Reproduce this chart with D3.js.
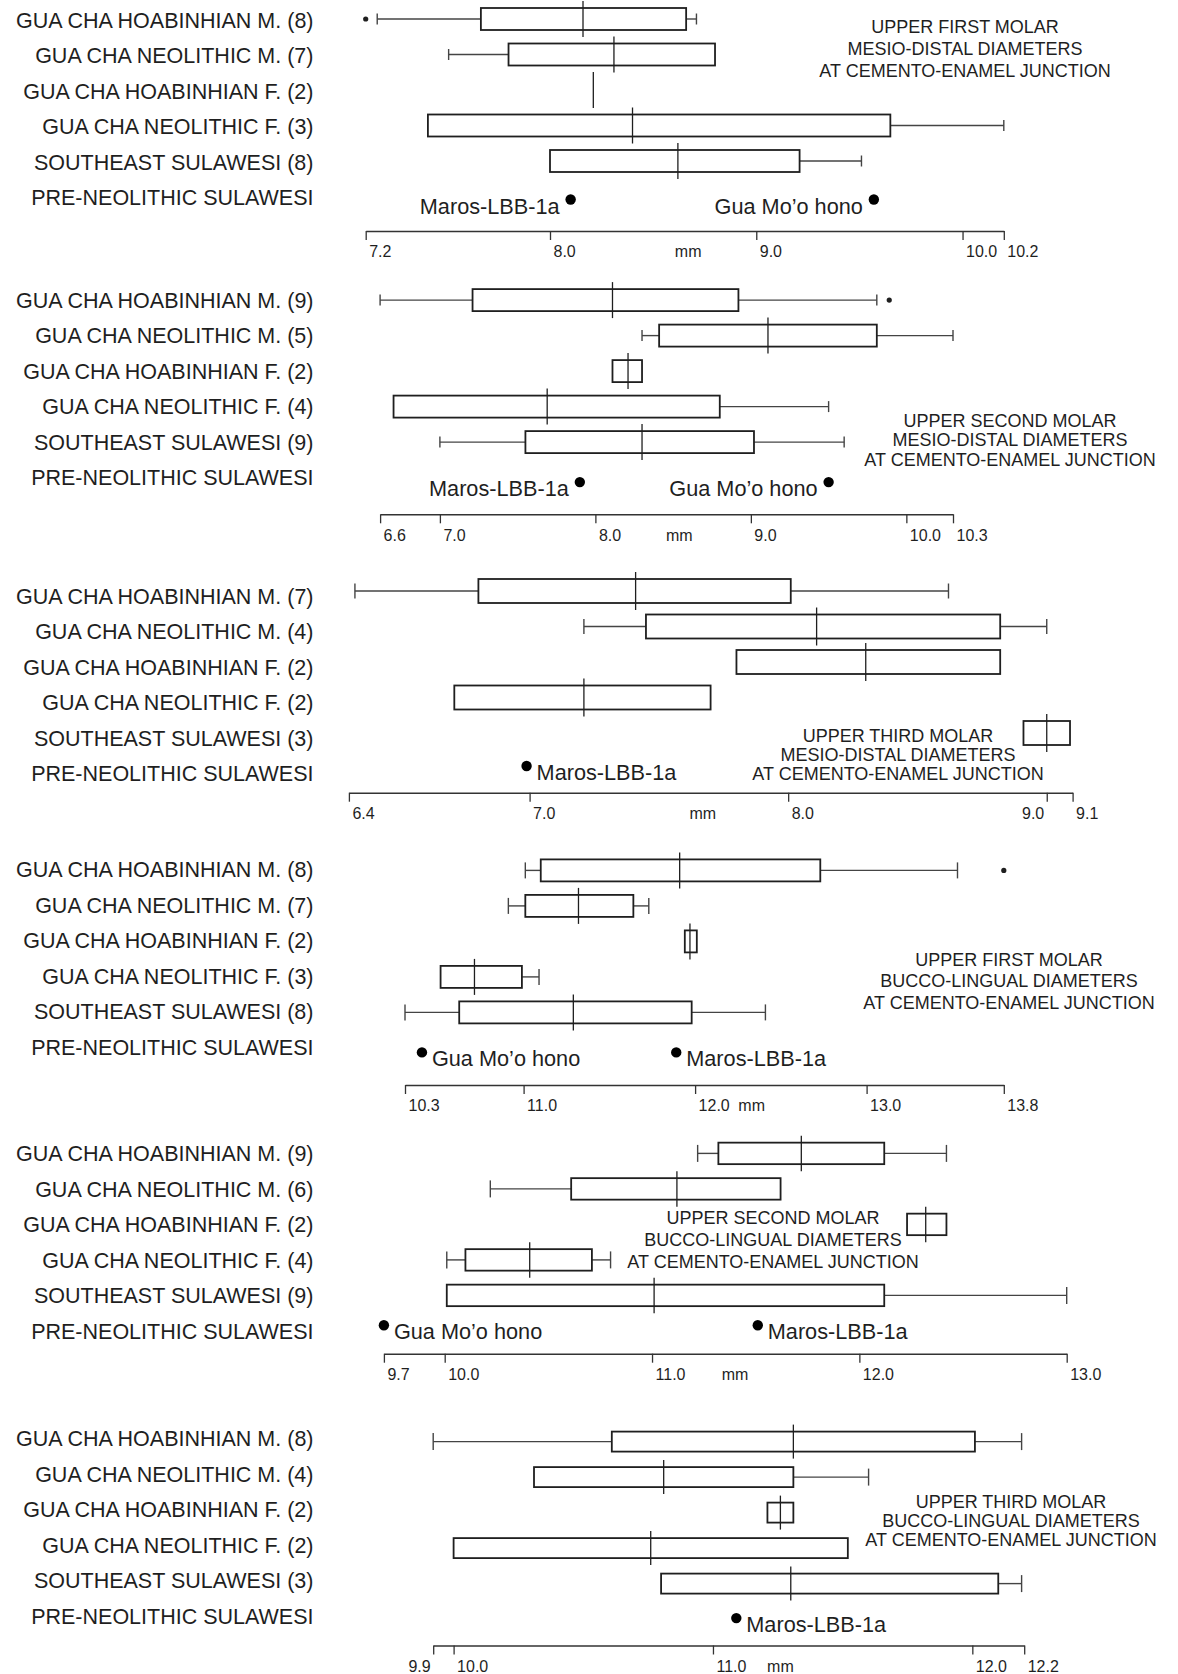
<!DOCTYPE html>
<html>
<head>
<meta charset="utf-8">
<script src="https://cdn.jsdelivr.net/npm/d3@7"></script>
<style>
  html, body { margin: 0; padding: 0; background: #fff; }
  svg { display: block; font-family: "Liberation Sans", Arial, Helvetica, sans-serif; }
</style>
</head>
<body>
<svg id="chart" width="1178" height="1674"></svg>
<script>
// ---- data -----------------------------------------------------------------
const groups = [
  "GUA CHA HOABINHIAN M.",
  "GUA CHA NEOLITHIC M.",
  "GUA CHA HOABINHIAN F.",
  "GUA CHA NEOLITHIC F.",
  "SOUTHEAST SULAWESI",
  "PRE-NEOLITHIC SULAWESI"
];

const titles = [
  ["UPPER FIRST MOLAR", "MESIO-DISTAL DIAMETERS", "AT CEMENTO-ENAMEL JUNCTION"],
  ["UPPER SECOND MOLAR", "MESIO-DISTAL DIAMETERS", "AT CEMENTO-ENAMEL JUNCTION"],
  ["UPPER THIRD MOLAR", "MESIO-DISTAL DIAMETERS", "AT CEMENTO-ENAMEL JUNCTION"],
  ["UPPER FIRST MOLAR", "BUCCO-LINGUAL DIAMETERS", "AT CEMENTO-ENAMEL JUNCTION"],
  ["UPPER SECOND MOLAR", "BUCCO-LINGUAL DIAMETERS", "AT CEMENTO-ENAMEL JUNCTION"],
  ["UPPER THIRD MOLAR", "BUCCO-LINGUAL DIAMETERS", "AT CEMENTO-ENAMEL JUNCTION"]
];

const counts = [
  [8, 7, 2, 3, 8],
  [9, 5, 2, 4, 9],
  [7, 4, 2, 2, 3],
  [8, 7, 2, 3, 8],
  [9, 6, 2, 4, 9],
  [8, 4, 2, 2, 3]
];

// axis tick values (mm)
const ticks = [
  [7.2, 8.0, 9.0, 10.0, 10.2],
  [6.6, 7.0, 8.0, 9.0, 10.0, 10.3],
  [6.4, 7.0, 8.0, 9.0, 9.1],
  [10.3, 11.0, 12.0, 13.0, 13.8],
  [9.7, 10.0, 11.0, 12.0, 13.0],
  [9.9, 10.0, 11.0, 12.0, 12.2]
];

// box stats per group: [low whisker, Q1, median, Q3, high whisker]
const stats = [
  [[7.25, 7.70, 8.16, 8.66, 8.71],
   [7.56, 7.82, 8.31, 8.80, 8.80],
   [8.21, 8.21, 8.21, 8.21, 8.21],
   [7.47, 7.47, 8.40, 9.65, 10.20],
   [8.00, 8.00, 8.62, 9.21, 9.51]],
  [[6.60, 7.21, 8.11, 8.92, 9.81],
   [8.30, 8.41, 9.11, 9.81, 10.30],
   [8.11, 8.11, 8.21, 8.30, 8.30],
   [6.69, 6.69, 7.69, 8.80, 9.50],
   [7.00, 7.55, 8.30, 9.02, 9.60]],
  [[6.42, 6.83, 7.41, 8.01, 8.62],
   [7.21, 7.45, 8.11, 8.82, 9.00],
   [7.80, 7.80, 8.30, 8.82, 8.82],
   [6.75, 6.75, 7.21, 7.70, 7.70],
   [8.91, 8.91, 9.00, 9.09, 9.09]],
  [[11.01, 11.10, 11.91, 12.73, 13.53],
   [10.91, 11.01, 11.32, 11.64, 11.73],
   [11.94, 11.94, 11.97, 12.01, 12.01],
   [10.51, 10.51, 10.71, 10.99, 11.09],
   [10.30, 10.62, 11.29, 11.98, 12.41]],
  [[11.22, 11.32, 11.72, 12.12, 12.42],
   [10.22, 10.61, 11.12, 11.62, 11.62],
   [12.23, 12.23, 12.32, 12.42, 12.42],
   [10.01, 10.10, 10.41, 10.71, 10.80],
   [10.01, 10.01, 11.01, 12.12, 13.00]],
  [[9.90, 10.61, 11.31, 12.01, 12.19],
   [10.31, 10.31, 10.81, 11.31, 11.60],
   [11.21, 11.21, 11.26, 11.31, 11.31],
   [10.00, 10.00, 10.76, 11.52, 11.52],
   [10.80, 10.80, 11.30, 12.10, 12.19]]
];

// outliers: [group index, value]
const outliers = [
  [[0, 7.20]],
  [[0, 9.89]],
  [],
  [[0, 13.80]],
  [],
  []
];

// pre-Neolithic Sulawesi specimens: [name, value]
const fossils = [
  [["Maros-LBB-1a", 8.10], ["Gua Mo’o hono", 9.57]],
  [["Maros-LBB-1a", 7.90], ["Gua Mo’o hono", 9.50]],
  [["Maros-LBB-1a", 6.99]],
  [["Gua Mo’o hono", 10.40], ["Maros-LBB-1a", 11.89]],
  [["Gua Mo’o hono", 9.70], ["Maros-LBB-1a", 11.51]],
  [["Maros-LBB-1a", 11.09]]
];

// ---- layout ---------------------------------------------------------------
// anchors: pixel x of first, second and last tick (the original axes are not
// evenly spaced at their first tick)
const layout = [
  { top: 20,     boxDy: -1, axisY: 231,    anchors: [365.7, 550.0, 1003.8], cap: 11, boxH: 22,
    title: [965, 26.7, 21.7],   unitAt: 8.67,  dotDy: 2,    side: "left" },
  { top: 300.1,  boxDy: 0,  axisY: 514.3,  anchors: [380.1, 439.9, 953.0],  cap: 11, boxH: 22,
    title: [1010, 420.7, 19.2], unitAt: 8.54,  dotDy: 4.5,  side: "left" },
  { top: 596,    boxDy: -5, axisY: 792.7,  anchors: [348.9, 529.6, 1072.6], cap: 15, boxH: 24,
    title: [898, 736, 18.7],    unitAt: 7.67,  dotDy: -7.5, side: "right" },
  { top: 869.4,  boxDy: 1,  axisY: 1085,   anchors: [405.0, 523.6, 1003.8], cap: 16, boxH: 22,
    title: [1009, 959.3, 21.7], unitAt: 12.33, dotDy: 5.5,  side: "right" },
  { top: 1153.4, boxDy: 0,  axisY: 1353.7, anchors: [383.9, 444.7, 1066.7], cap: 17, boxH: 21.5,
    title: [773, 1217.3, 21.9], unitAt: 11.40, dotDy: -5.7, side: "right" },
  { top: 1438.6, boxDy: 3,  axisY: 1645.5, anchors: [433.2, 453.6, 1024.2], cap: 17, boxH: 20,
    title: [1011, 1501.7, 18.7], unitAt: 11.26, dotDy: 2,   side: "right" }
];

const INK = "#1f1f1f";
const ROW_STEP = 35.5;
const LABEL_X = 313.5;

const svg = d3.select("#chart");

layout.forEach((L, k) => {
  const tv = ticks[k];
  const x = d3.scaleLinear()
    .domain([tv[0], tv[1], tv[tv.length - 1]])
    .range(L.anchors);
  const y = d3.scaleLinear().domain([0, 5]).range([L.top, L.top + 5 * ROW_STEP]);

  const g = svg.append("g");

  // group labels
  g.selectAll("text.grp")
    .data(groups)
    .join("text")
    .attr("class", "grp")
    .attr("x", LABEL_X)
    .attr("y", (d, i) => y(i))
    .attr("dy", "0.36em")
    .attr("text-anchor", "end")
    .attr("fill", INK)
    .style("font-size", "21.5px")
    .text((d, i) => (i < 5 ? `${d} (${counts[k][i]})` : d));

  // boxes
  const rows = g.selectAll("g.box")
    .data(stats[k])
    .join("g")
    .attr("class", "box")
    .attr("transform", (d, i) => `translate(0,${y(i) + L.boxDy})`);

  rows.filter((d) => d[0] < d[1]).append("line")
    .attr("x1", (d) => x(d[0])).attr("x2", (d) => x(d[1]))
    .attr("stroke", "#444").attr("stroke-width", 1.4);
  rows.filter((d) => d[0] < d[1]).append("line")
    .attr("x1", (d) => x(d[0])).attr("x2", (d) => x(d[0]))
    .attr("y1", -L.cap / 2).attr("y2", L.cap / 2)
    .attr("stroke", "#444").attr("stroke-width", 1.4);
  rows.filter((d) => d[4] > d[3]).append("line")
    .attr("x1", (d) => x(d[3])).attr("x2", (d) => x(d[4]))
    .attr("stroke", "#444").attr("stroke-width", 1.4);
  rows.filter((d) => d[4] > d[3]).append("line")
    .attr("x1", (d) => x(d[4])).attr("x2", (d) => x(d[4]))
    .attr("y1", -L.cap / 2).attr("y2", L.cap / 2)
    .attr("stroke", "#444").attr("stroke-width", 1.4);

  rows.filter((d) => d[3] > d[1]).append("rect")
    .attr("x", (d) => x(d[1]))
    .attr("width", (d) => x(d[3]) - x(d[1]))
    .attr("y", -L.boxH / 2)
    .attr("height", L.boxH)
    .attr("fill", "#fff")
    .attr("stroke", INK)
    .attr("stroke-width", 1.8);

  rows.append("line")
    .attr("x1", (d) => x(d[2])).attr("x2", (d) => x(d[2]))
    .attr("y1", -L.boxH / 2 - 7).attr("y2", L.boxH / 2 + 7)
    .attr("stroke", INK).attr("stroke-width", 1.3);

  // outliers
  g.selectAll("circle.out")
    .data(outliers[k])
    .join("circle")
    .attr("class", "out")
    .attr("cx", (d) => x(d[1]))
    .attr("cy", (d) => y(d[0]) + L.boxDy)
    .attr("r", 2.6)
    .attr("fill", INK);

  // pre-Neolithic specimens
  const fy = y(5) + L.dotDy;
  const fz = g.selectAll("g.fossil").data(fossils[k]).join("g").attr("class", "fossil");
  fz.append("circle")
    .attr("cx", (d) => x(d[1]))
    .attr("cy", fy)
    .attr("r", 5.2)
    .attr("fill", "#000");
  fz.append("text")
    .attr("x", (d) => x(d[1]) + (L.side === "left" ? -11 : 10))
    .attr("y", fy + 14)
    .attr("text-anchor", L.side === "left" ? "end" : "start")
    .attr("fill", INK)
    .style("font-size", "21.7px")
    .text((d) => d[0]);

  // title
  g.selectAll("text.title")
    .data(titles[k])
    .join("text")
    .attr("class", "title")
    .attr("x", L.title[0])
    .attr("y", (d, i) => L.title[1] + i * L.title[2])
    .attr("dy", "0.36em")
    .attr("text-anchor", "middle")
    .attr("fill", INK)
    .style("font-size", "18px")
    .text((d) => d);

  // axis
  const ax = g.append("g")
    .attr("transform", `translate(0,${L.axisY})`)
    .style("color", "#333")
    .call(
      d3.axisBottom(x)
        .tickValues(tv)
        .tickFormat(d3.format(".1f"))
        .tickSize(9)
        .tickSizeOuter(0)
    );
  ax.select(".domain").attr("stroke-width", 1.4);
  ax.selectAll(".tick line").attr("stroke-width", 1.3);
  ax.selectAll(".tick text")
    .attr("fill", INK)
    .style("font-size", "16px")
    .style("font-family", "inherit")
    .attr("y", 15)
    .each(function (d, i) {
      // a label crowded by the next tick sits to the left of its own tick
      const crowded = i < tv.length - 1 && x(tv[i + 1]) - x(d) < 35;
      d3.select(this)
        .attr("text-anchor", crowded ? "end" : "start")
        .attr("x", crowded ? -3 : 3);
    });
  ax.append("text")
    .attr("x", x(L.unitAt))
    .attr("y", 15)
    .attr("dy", "0.71em")
    .attr("text-anchor", "middle")
    .attr("fill", INK)
    .style("font-size", "16px")
    .text("mm");
});
</script>
</body>
</html>
